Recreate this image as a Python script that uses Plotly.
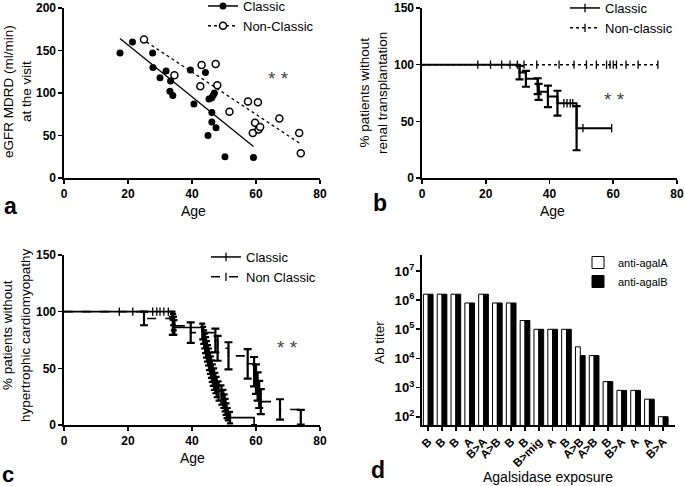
import plotly.graph_objects as go

FONT = "Liberation Sans, Arial, sans-serif"
W, H = 685, 486

# ---- panel a : eGFR vs age ----
classic_age = [17.5, 21.4, 27.7, 27.8, 30.0, 31.9, 33.3, 33.1, 34.0, 39.5, 40.6, 44.2,
               45.3, 46.1, 46.6, 47.0, 46.2, 46.2, 47.5, 45.0, 50.3, 59.2]
classic_egfr = [147, 160, 147, 130, 118, 126, 114, 102, 97, 127, 87, 124,
                93, 94, 97, 100, 77, 66, 59, 50, 25, 24]
nonclassic_age = [25.0, 34.5, 43.0, 42.6, 47.4, 47.9, 51.7, 57.5, 60.6, 59.0, 59.7,
                  60.8, 61.3, 67.3, 73.5, 74.0]
nonclassic_egfr = [163, 121, 133, 108, 134, 109, 78, 90, 89, 53, 65, 57, 60, 70, 53, 29]
fit_classic_x = [17.5, 59.2]
fit_classic_y = [164, 37]
fit_nonclassic_x = [25.8, 74.0]
fit_nonclassic_y = [160, 40]

# ---- panel b : renal transplantation free survival ----
b_classic_t = [30.6, 32.6, 36.3, 36.6, 39.5, 42.5, 48.5]
b_classic_s = [93, 87.5, 81, 76, 72, 66, 44]
b_classic_se = [6, 7, 7, 7, 9.5, 11, 19.5]
b_classic_end = 59.5
b_classic_cens_x = [17.5, 21.5, 25.0, 27.6, 29.9, 44.5, 45.5, 46.5, 47.3, 50.5, 59.5]
b_classic_cens_y = [100, 100, 100, 100, 100, 66, 66, 66, 66, 44, 44]
b_nonclassic_end = 74.0
b_nonclassic_cens = [32, 36, 43, 47.7, 51.6, 54.7, 57.9, 59, 60, 61, 64, 67.8, 74]

# ---- panel c : hypertrophic cardiomyopathy free survival ----
c_classic_t = [33.9, 34.1, 34.3, 34.5, 43.2, 43.5, 43.8, 44.1, 44.4, 44.7, 45.0, 45.3,
               45.6, 45.9, 46.2, 46.5, 46.9, 47.3, 47.7, 48.3, 49.2, 49.8, 50.2, 50.5,
               50.8, 51.2, 51.9, 59.4]
c_classic_s = [96.5, 93, 89.5, 86, 82.5, 79, 75.5, 72, 68.5, 65, 61.5, 58,
               54.5, 51, 47.5, 44, 40.5, 37, 33.5, 30, 26.5, 23, 19.5, 16,
               12.5, 9.5, 6.5, 0]
c_classic_se = [3.5, 5, 6, 6.5, 7, 7.5, 8, 8.5, 9, 9, 9, 9.5,
                9.5, 9.5, 9.5, 9.5, 9.5, 9, 9, 8.5, 8.5, 8, 7.5, 7,
                6.5, 5.5, 5, 0]
c_classic_cens = [17.3, 21.5, 27.7, 29.0, 30.0, 31.2, 32.6]
c_nonclassic_t = [25.0, 34.0, 39.6, 47.3, 48.0, 51.4, 57.4, 59.4, 60.0, 60.5, 61.0,
                  61.5, 67.5, 74.0]
c_nonclassic_s = [94, 87.5, 81.5, 74.5, 67.7, 61, 54, 47, 40.5, 34, 27, 20.6, 13.7, 6.8]
c_nonclassic_se = [6, 8, 9, 10.5, 11, 12, 13, 13, 13, 12.5, 12, 11, 9, 6.5]

# ---- panel d : antibody titers ----
d_labels = ["B", "B", "B", "A", "B>A", "A>B", "B", "B", "B>mig", "A", "B", "A>B",
            "A>B", "B", "B>A", "A", "A", "B>A"]
anti_agalA = [1.6e6, 1.6e6, 1.6e6, 8e5, 1.6e6, 8e5, 8e5, 2e5, 1e5, 1e5, 1e5, 2.5e4,
              1.25e4, 1.6e3, 8e2, 8e2, 4e2, 1e2]
anti_agalB = [1.6e6, 1.6e6, 1.6e6, 8e5, 1.6e6, 8e5, 8e5, 2e5, 1e5, 1e5, 1e5, 1.25e4,
              1.25e4, 1.6e3, 8e2, 8e2, 4e2, 1e2]


def px_x(p):
    return p / W


def px_y(p):
    return 1 - p / H


def step(t, s, end, start=100):
    xs = [0] + list(t) + [end]
    ys = [start] + list(s) + [s[-1]]
    return xs, ys


tick_mark = dict(symbol="line-ns", size=6, line=dict(color="black", width=1.3))
filled = dict(size=7, color="black")
hollow = dict(size=7, color="white", line=dict(color="black", width=1.5))

fig = go.Figure()

# panel a
fig.add_trace(go.Scatter(x=classic_age, y=classic_egfr, mode="markers", xaxis="x", yaxis="y",
                         marker=filled, showlegend=False))
fig.add_trace(go.Scatter(x=nonclassic_age, y=nonclassic_egfr, mode="markers", xaxis="x", yaxis="y",
                         marker=hollow, showlegend=False))
fig.add_trace(go.Scatter(x=fit_classic_x, y=fit_classic_y, mode="lines", xaxis="x", yaxis="y",
                         line=dict(color="black", width=1.3), showlegend=False))
fig.add_trace(go.Scatter(x=fit_nonclassic_x, y=fit_nonclassic_y, mode="lines", xaxis="x", yaxis="y",
                         line=dict(color="black", width=1.3, dash="dot"), showlegend=False))
fig.add_trace(go.Scatter(x=[None], y=[None], mode="lines+markers", name="Classic", xaxis="x", yaxis="y",
                         marker=filled, line=dict(color="black", width=1.5), legend="legend"))
fig.add_trace(go.Scatter(x=[None], y=[None], mode="lines+markers", name="Non-Classic", xaxis="x", yaxis="y",
                         marker=hollow, line=dict(color="black", width=1.5, dash="dot"), legend="legend"))

# panel b
bx, by = step(b_classic_t, b_classic_s, b_classic_end)
fig.add_trace(go.Scatter(x=[0, b_nonclassic_end], y=[100, 100], mode="lines", xaxis="x2", yaxis="y2",
                         line=dict(color="black", width=1.5, dash="dot"), showlegend=False))
fig.add_trace(go.Scatter(x=bx, y=by, mode="lines", line_shape="hv", xaxis="x2", yaxis="y2",
                         line=dict(color="black", width=2), showlegend=False))
fig.add_trace(go.Scatter(x=b_classic_t, y=b_classic_s, mode="markers", xaxis="x2", yaxis="y2",
                         marker=dict(size=2, color="black"),
                         error_y=dict(type="data", array=b_classic_se, color="black", thickness=2.2, width=4),
                         showlegend=False))
fig.add_trace(go.Scatter(x=b_classic_cens_x, y=b_classic_cens_y, mode="markers", xaxis="x2", yaxis="y2",
                         marker=tick_mark, showlegend=False))
fig.add_trace(go.Scatter(x=b_nonclassic_cens, y=[100] * len(b_nonclassic_cens), mode="markers",
                         xaxis="x2", yaxis="y2", marker=tick_mark, showlegend=False))
fig.add_trace(go.Scatter(x=[None], y=[None], mode="lines+markers", name="Classic", xaxis="x2", yaxis="y2",
                         marker=tick_mark, line=dict(color="black", width=1.5), legend="legend2"))
fig.add_trace(go.Scatter(x=[None], y=[None], mode="lines+markers", name="Non-classic", xaxis="x2", yaxis="y2",
                         marker=tick_mark, line=dict(color="black", width=1.5, dash="dot"), legend="legend2"))

# panel c
cx, cy = step(c_classic_t, c_classic_s, c_classic_t[-1])
nx, ny = step(c_nonclassic_t, c_nonclassic_s, c_nonclassic_t[-1])
fig.add_trace(go.Scatter(x=nx, y=ny, mode="lines", line_shape="hv", xaxis="x3", yaxis="y3",
                         line=dict(color="black", width=1.6, dash="dash"), showlegend=False))
fig.add_trace(go.Scatter(x=cx, y=cy, mode="lines", line_shape="hv", xaxis="x3", yaxis="y3",
                         line=dict(color="black", width=1.6), showlegend=False))
fig.add_trace(go.Scatter(x=c_nonclassic_t, y=c_nonclassic_s, mode="markers", xaxis="x3", yaxis="y3",
                         marker=dict(size=2, color="black"),
                         error_y=dict(type="data", array=c_nonclassic_se, color="black", thickness=2.2, width=4),
                         showlegend=False))
fig.add_trace(go.Scatter(x=c_classic_t, y=c_classic_s, mode="markers", xaxis="x3", yaxis="y3",
                         marker=dict(size=2, color="black"),
                         error_y=dict(type="data", array=c_classic_se, color="black", thickness=2.2, width=3),
                         showlegend=False))
fig.add_trace(go.Scatter(x=c_classic_cens, y=[100] * len(c_classic_cens), mode="markers",
                         xaxis="x3", yaxis="y3", marker=tick_mark, showlegend=False))
fig.add_trace(go.Scatter(x=[None], y=[None], mode="lines+markers", name="Classic", xaxis="x3", yaxis="y3",
                         marker=tick_mark, line=dict(color="black", width=1.5), legend="legend3"))
fig.add_trace(go.Scatter(x=[None], y=[None], mode="lines+markers", name="Non Classic", xaxis="x3", yaxis="y3",
                         marker=tick_mark, line=dict(color="black", width=1.5, dash="dash"), legend="legend3"))

# panel d
pos = list(range(len(d_labels)))
fig.add_trace(go.Bar(x=pos, y=anti_agalA, name="anti-agalA", xaxis="x4", yaxis="y4",
                     marker=dict(color="white", line=dict(color="black", width=1)), legend="legend4"))
fig.add_trace(go.Bar(x=pos, y=anti_agalB, name="anti-agalB", xaxis="x4", yaxis="y4",
                     marker=dict(color="black", line=dict(color="black", width=1)), legend="legend4"))

tickfont = dict(family=FONT, size=12, color="black", weight="bold")
axis_common = dict(showline=True, linecolor="black", linewidth=1.6, ticks="outside", ticklen=4,
                   tickwidth=1.6, tickcolor="black", showgrid=False, zeroline=False,
                   fixedrange=True)
small_tickfont = dict(family=FONT, size=10.5, color="black", weight="bold")

dom_ax = [px_x(64), px_x(320)]
dom_bx = [px_x(422), px_x(677)]
dom_top = [px_y(178), px_y(8)]
dom_bot = [px_y(425), px_y(255)]

legend_common = dict(bgcolor="rgba(0,0,0,0)",
                     xref="paper", yref="paper", xanchor="left", yanchor="top",
                     itemwidth=30, tracegroupgap=0, itemclick=False, itemdoubleclick=False)
font13 = dict(family=FONT, size=13, color="black")

fig.update_layout(
    width=W, height=H, margin=dict(l=0, r=0, t=0, b=0, autoexpand=False),
    paper_bgcolor="white", plot_bgcolor="white",
    font=dict(family=FONT, color="black"),
    barmode="group", bargap=0.3, bargroupgap=0.0,
    hovermode=False,
    xaxis=dict(domain=dom_ax, anchor="y", range=[0, 80], dtick=20, tickfont=tickfont, **axis_common),
    yaxis=dict(domain=dom_top, anchor="x", range=[0, 200], dtick=50, tickfont=tickfont, **axis_common),
    xaxis2=dict(domain=dom_bx, anchor="y2", range=[0, 80], dtick=20, tickfont=tickfont, **axis_common),
    yaxis2=dict(domain=dom_top, anchor="x2", range=[0, 150], dtick=50, tickfont=tickfont, **axis_common),
    xaxis3=dict(domain=dom_ax, anchor="y3", range=[0, 80], dtick=20, tickfont=tickfont, **axis_common),
    yaxis3=dict(domain=dom_bot, anchor="x3", range=[0, 150], dtick=50, tickfont=tickfont, **axis_common),
    xaxis4=dict(domain=[px_x(422), px_x(675)], anchor="y4", range=[-0.45, 17.85],
                tickmode="array", tickvals=pos, ticktext=d_labels, tickangle=-45,
                tickfont=dict(family=FONT, size=11.5, color="black", weight="bold"), **axis_common),
    yaxis4=dict(domain=dom_bot, anchor="x4", type="log", range=[1.715, 7.55], dtick=1,
                exponentformat="power", tickfont=small_tickfont, **axis_common),
    legend=dict(x=px_x(203), y=px_y(-9), font=font13, **legend_common),
    legend2=dict(x=px_x(565), y=px_y(-7), font=font13, **legend_common),
    legend3=dict(x=px_x(206), y=px_y(242), font=font13, **legend_common),
    legend4=dict(x=px_x(578), y=px_y(248), font=dict(family=FONT, size=11, color="black"),
                 **legend_common),
)

ann = []


def text(x, y, s, size=14, angle=0, bold=False, color="black"):
    ann.append(dict(x=px_x(x), y=px_y(y), xref="paper", yref="paper", text=s, showarrow=False,
                    xanchor="center", yanchor="middle", textangle=angle,
                    font=dict(family=FONT, size=size, color=color, weight="bold" if bold else "normal")))


# axis titles
text(193, 211, "Age")
text(552, 211, "Age")
text(192, 458, "Age")
text(548, 477, "Agalsidase exposure")
text(17, 92, "eGFR MDRD (ml/min)<br>at the visit", size=13.5, angle=-90)
text(374, 93, "% patients without<br>renal transplantation", size=13.5, angle=-90)
text(16, 335, "% patients without<br>hypertrophic cardiomyopathy", size=13.5, angle=-90)
text(379, 342, "Ab titer", size=13.5, angle=-90)
# panel letters
text(10, 206, "a", size=23, bold=True)
text(380, 203, "b", size=23, bold=True)
text(8, 474, "c", size=22, bold=True)
text(378, 470, "d", size=23, bold=True)
# significance
text(278, 79, "* *", size=19, color="#444")
text(614, 100, "* *", size=19, color="#444")
text(287, 347, "* *", size=19, color="#444")

fig.update_layout(annotations=ann)
fig.write_html("out.html", config={"displayModeBar": False, "staticPlot": True},
               post_script="document.body.style.margin = '0';")
